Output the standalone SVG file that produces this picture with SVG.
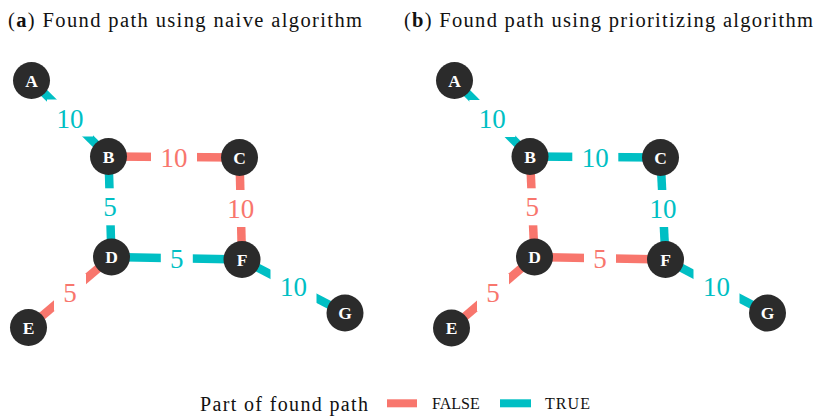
<svg xmlns="http://www.w3.org/2000/svg" width="816" height="416" viewBox="0 0 816 416">
<style>
.t{font-family:"Liberation Serif",serif;fill:#111;}
.e{stroke-width:8.5;fill:none;}
.f{stroke:#F8766D;}
.u{stroke:#00BFC4;}
.lf{font-family:"Liberation Serif",serif;font-size:27px;fill:#F8766D;text-anchor:middle;}
.lu{font-family:"Liberation Serif",serif;font-size:27px;fill:#00BFC4;text-anchor:middle;}
.g{fill:#fff;}
.n circle{fill:#2b2b2b;}
.n text{font-family:"Liberation Serif",serif;font-weight:bold;font-size:17.5px;fill:#fff;text-anchor:middle;}
</style>
<rect width="816" height="416" fill="#fff"/>
<text class="t" x="8" y="26.5" font-size="20.5" textLength="354" lengthAdjust="spacing">(<tspan font-weight="bold">a</tspan>) Found path using naive algorithm</text>
<text class="t" x="404" y="26.5" font-size="20.5" textLength="409" lengthAdjust="spacing">(<tspan font-weight="bold">b</tspan>) Found path using prioritizing algorithm</text>
<g id="connectors">
<!-- left panel -->
<line class="e u" x1="31.5" y1="80.5" x2="108.5" y2="156.5"/>
<line class="e f" x1="108.5" y1="156.5" x2="239.5" y2="157.5"/>
<line class="e f" x1="239.5" y1="157.5" x2="242" y2="259.5"/>
<line class="e u" x1="108.5" y1="156.5" x2="111.5" y2="257"/>
<line class="e u" x1="111.5" y1="257" x2="242" y2="259.5"/>
<line class="e f" x1="111.5" y1="257" x2="28.5" y2="327.5"/>
<line class="e u" x1="242" y1="259.5" x2="345" y2="313"/>
<rect class="g" x="47" y="99.5" width="46" height="37"/>
<rect class="g" x="151" y="138.5" width="46" height="37"/>
<rect class="g" x="217.7" y="190" width="46" height="37"/>
<rect class="g" x="94" y="188.3" width="32" height="37"/>
<rect class="g" x="160.8" y="239.8" width="32" height="37"/>
<rect class="g" x="54" y="273.8" width="32" height="37"/>
<rect class="g" x="270.5" y="267.8" width="46" height="37"/>
<text class="lu" x="70" y="127.5">10</text>
<text class="lf" x="174" y="166.5">10</text>
<text class="lf" x="240.7" y="218">10</text>
<text class="lu" x="110" y="216.3">5</text>
<text class="lu" x="176.8" y="267.8">5</text>
<text class="lf" x="70" y="301.8">5</text>
<text class="lu" x="293.5" y="295.8">10</text>
<!-- right panel -->
<line class="e u" x1="454.5" y1="80.5" x2="530" y2="156.5"/>
<line class="e u" x1="530" y1="156.5" x2="660.5" y2="157.5"/>
<line class="e u" x1="660.5" y1="157.5" x2="665.5" y2="259.5"/>
<line class="e f" x1="530" y1="156.5" x2="534.5" y2="257"/>
<line class="e f" x1="534.5" y1="257" x2="665.5" y2="259.5"/>
<line class="e f" x1="534.5" y1="257" x2="451.5" y2="328"/>
<line class="e u" x1="665.5" y1="259.5" x2="767.5" y2="313"/>
<rect class="g" x="469.3" y="100" width="46" height="37"/>
<rect class="g" x="572.3" y="138.5" width="46" height="37"/>
<rect class="g" x="640" y="190" width="46" height="37"/>
<rect class="g" x="516.3" y="188.3" width="32" height="37"/>
<rect class="g" x="584" y="239.8" width="32" height="37"/>
<rect class="g" x="477" y="274" width="32" height="37"/>
<rect class="g" x="693.5" y="267.8" width="46" height="37"/>
<text class="lu" x="492.3" y="128">10</text>
<text class="lu" x="595.3" y="166.5">10</text>
<text class="lu" x="663" y="218">10</text>
<text class="lf" x="532.3" y="216.3">5</text>
<text class="lf" x="600" y="267.8">5</text>
<text class="lf" x="493" y="302">5</text>
<text class="lu" x="716.5" y="295.8">10</text>
</g>
<g id="nA1" class="n"><circle cx="31.5" cy="80.5" r="18.5"/><text x="31.5" y="86.5">A</text></g>
<g id="nB1" class="n"><circle cx="108.5" cy="156.5" r="18.5"/><text x="108.5" y="162.5">B</text></g>
<g id="nC1" class="n"><circle cx="239.5" cy="157.5" r="18.5"/><text x="239.5" y="163.5">C</text></g>
<g id="nD1" class="n"><circle cx="111.5" cy="257" r="18.5"/><text x="111.5" y="263">D</text></g>
<g id="nE1" class="n"><circle cx="28.5" cy="327.5" r="18.5"/><text x="28.5" y="333.5">E</text></g>
<g id="nF1" class="n"><circle cx="242" cy="259.5" r="18.5"/><text x="242" y="265.5">F</text></g>
<g id="nG1" class="n"><circle cx="345" cy="313" r="18.5"/><text x="345" y="319">G</text></g>
<g id="nA2" class="n"><circle cx="454.5" cy="80.5" r="18.5"/><text x="454.5" y="86.5">A</text></g>
<g id="nB2" class="n"><circle cx="530" cy="156.5" r="18.5"/><text x="530" y="162.5">B</text></g>
<g id="nC2" class="n"><circle cx="660.5" cy="157.5" r="18.5"/><text x="660.5" y="163.5">C</text></g>
<g id="nD2" class="n"><circle cx="534.5" cy="257" r="18.5"/><text x="534.5" y="263">D</text></g>
<g id="nE2" class="n"><circle cx="451.5" cy="328" r="18.5"/><text x="451.5" y="334">E</text></g>
<g id="nF2" class="n"><circle cx="665.5" cy="259.5" r="18.5"/><text x="665.5" y="265.5">F</text></g>
<g id="nG2" class="n"><circle cx="767.5" cy="313" r="18.5"/><text x="767.5" y="319">G</text></g>
<g id="legend">
<text class="t" x="200" y="410.5" font-size="20" textLength="168" lengthAdjust="spacing">Part of found path</text>
<rect x="387" y="399.3" width="30" height="8" fill="#F8766D"/>
<text class="t" x="432" y="409" font-size="16">FALSE</text>
<rect x="500" y="399.3" width="31" height="8" fill="#00BFC4"/>
<text class="t" x="545" y="409" font-size="16" textLength="45" lengthAdjust="spacing">TRUE</text>
</g>
</svg>
